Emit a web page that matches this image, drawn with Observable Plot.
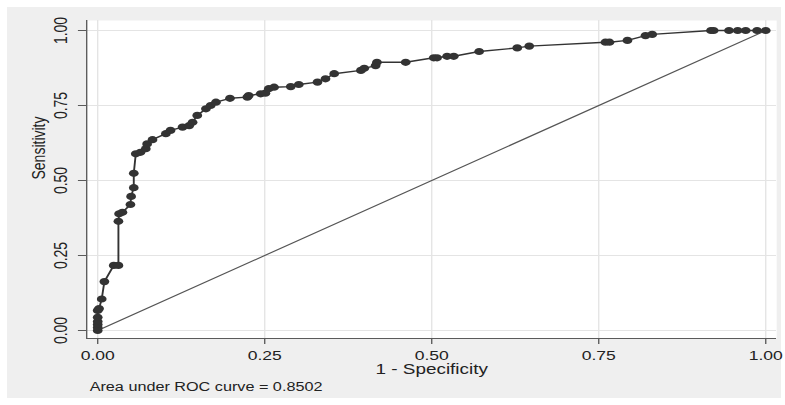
<!DOCTYPE html>
<html>
<head>
<meta charset="utf-8">
<script src="https://cdn.jsdelivr.net/npm/d3@7"></script>
<script src="https://cdn.jsdelivr.net/npm/@observablehq/plot@0.6"></script>
<style>
  html, body { margin: 0; padding: 0; background: #ffffff; overflow: hidden; }
  #wrap { position: absolute; left: 7px; top: 7px; width: 774px; height: 391px; background: #efefef; overflow: visible; }
  #wrap svg { transform-origin: 0 0; transform: scaleX(1.3508); display: block; }
</style>
</head>
<body>
<div id="wrap"></div>
<script>
// ROC curve points (1 - specificity, sensitivity)
const fpr = [0, 0, 0, 0, 0, 0, 0.002, 0.006, 0.010, 0.024, 0.031, 0.031, 0.032, 0.037, 0.049, 0.050, 0.054, 0.054, 0.057, 0.064, 0.072, 0.074, 0.082, 0.102, 0.109, 0.127, 0.137, 0.142, 0.149, 0.162, 0.169, 0.177, 0.198, 0.224, 0.226, 0.244, 0.251, 0.256, 0.264, 0.289, 0.301, 0.329, 0.341, 0.354, 0.394, 0.399, 0.416, 0.418, 0.461, 0.503, 0.508, 0.523, 0.533, 0.571, 0.628, 0.646, 0.760, 0.766, 0.793, 0.820, 0.830, 0.918, 0.922, 0.945, 0.958, 0.970, 0.987, 1];
const tpr = [0, 0.010, 0.020, 0.030, 0.044, 0.067, 0.073, 0.105, 0.163, 0.217, 0.217, 0.364, 0.389, 0.394, 0.420, 0.447, 0.476, 0.524, 0.589, 0.594, 0.606, 0.622, 0.636, 0.656, 0.667, 0.678, 0.683, 0.694, 0.717, 0.739, 0.750, 0.761, 0.774, 0.778, 0.783, 0.789, 0.791, 0.806, 0.811, 0.813, 0.820, 0.828, 0.839, 0.856, 0.867, 0.874, 0.883, 0.894, 0.894, 0.909, 0.909, 0.914, 0.914, 0.930, 0.942, 0.948, 0.961, 0.961, 0.967, 0.983, 0.987, 1, 1, 1, 1, 1, 1, 1];
// reference (chance) line
const diagX = [0, 1];
const diagY = [0, 1];
// ticks
const xTicks = [0, 0.25, 0.5, 0.75, 1];
const xTickLabels = ["0.00", "0.25", "0.50", "0.75", "1.00"];
const yTicks = [0, 0.25, 0.5, 0.75, 1];
const yTickLabels = ["0.00", "0.25", "0.50", "0.75", "1.00"];
const xTitle = "1 - Specificity";
const yTitle = "Sensitivity";
const caption = "Area under ROC curve = 0.8502";

const points = fpr.map((x, i) => ({fpr: x, tpr: tpr[i]}));
const diag = diagX.map((x, i) => ({x, y: diagY[i]}));

const axisColor = "#5a5a5a";
const ink = "#333333";

const chart = Plot.plot({
  width: 573,
  height: 391,
  marginLeft: 58.5,
  marginRight: 3.7,
  marginTop: 13,
  marginBottom: 60,
  insetLeft: 8.15,
  insetRight: 8.1,
  insetTop: 10,
  insetBottom: 8,
  style: {background: "transparent", fontFamily: "'Liberation Sans', Arial, sans-serif", overflow: "visible", color: "#222"},
  x: {domain: [0, 1], axis: null},
  y: {domain: [0, 1], axis: null},
  marks: [
    Plot.frame({fill: "white", stroke: null}),
    Plot.gridX(xTicks, {stroke: "#e4e4e4", strokeOpacity: 1, strokeWidth: 1}),
    Plot.gridY(yTicks, {stroke: "#e4e4e4", strokeOpacity: 1, strokeWidth: 1}),
    Plot.line(diag, {x: "x", y: "y", stroke: "#555", strokeWidth: 1.1}),
    Plot.line(points, {x: "fpr", y: "tpr", stroke: ink, strokeWidth: 1.4}),
    Plot.dot(points, {x: "fpr", y: "tpr", r: 3.6, fill: ink, stroke: null}),
    // axis lines
    Plot.ruleX([0], {dx: -8.15, stroke: axisColor, strokeWidth: 1}),
    Plot.ruleY([0], {dy: 8, stroke: axisColor, strokeWidth: 1}),
    // ticks
    Plot.axisX(xTicks, {anchor: "bottom", tickSize: 6, tickFormat: () => "", label: null, stroke: axisColor}),
    Plot.axisY(yTicks, {anchor: "left", tickSize: 6, tickFormat: () => "", label: null, stroke: axisColor}),
    // tick labels
    Plot.text(xTicks, {x: d => d, text: (d, i) => xTickLabels[i], frameAnchor: "bottom", dy: 17, lineAnchor: "middle", fontSize: 13, fill: "#222"}),
    Plot.text(yTicks, {y: d => d, text: (d, i) => yTickLabels[i], frameAnchor: "left", dx: -19.3, rotate: -90, textAnchor: "middle", lineAnchor: "middle", fontSize: 14, fill: "#222"}),
    // titles
    Plot.text([xTitle], {text: d => d, frameAnchor: "bottom", dy: 30.8, lineAnchor: "middle", fontSize: 14, fill: "#222"}),
    Plot.text([yTitle], {text: d => d, frameAnchor: "left", dx: -35.6, rotate: -90, lineAnchor: "middle", fontSize: 14, fill: "#222"}),
    Plot.text([caption], {text: d => d, frameAnchor: "bottom-left", dx: 2.2, dy: 48.5, textAnchor: "start", lineAnchor: "middle", fontSize: 12, fill: "#222"})
  ]
});
document.getElementById("wrap").appendChild(chart);
</script>
</body>
</html>
